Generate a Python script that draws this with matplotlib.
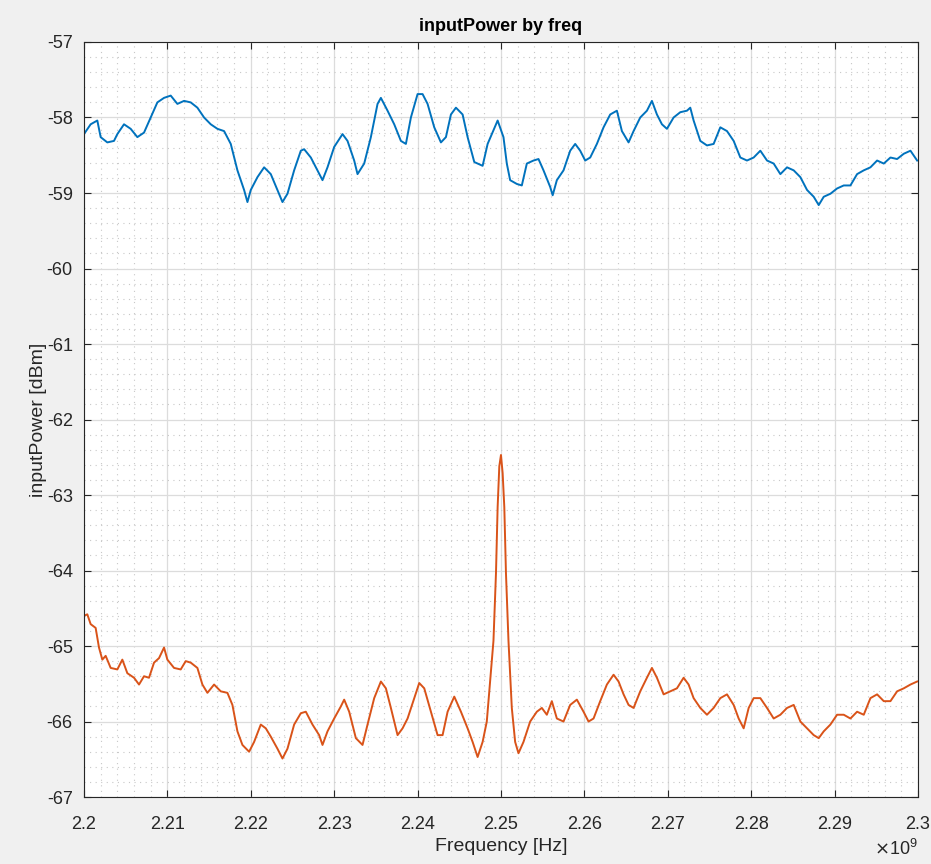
import numpy as np
import matplotlib
matplotlib.use('Agg')
import matplotlib.pyplot as plt
from matplotlib.ticker import MultipleLocator, FuncFormatter

# Frequency in MHz, input power in dBm
freq_a = [2200.0, 2200.8, 2201.6, 2202.0, 2202.8, 2203.6, 2204.0, 2204.8, 2205.6, 2206.4,
          2207.2, 2208.0, 2208.8, 2209.6, 2210.4, 2211.2, 2212.0, 2212.8, 2213.6, 2214.4,
          2215.2, 2216.0, 2216.8, 2217.6, 2218.4, 2219.2, 2219.6, 2220.0, 2220.8, 2221.6,
          2222.4, 2223.2, 2223.8, 2224.4, 2225.2, 2226.0, 2226.4, 2227.2, 2228.0, 2228.6,
          2229.2, 2230.0, 2231.0, 2231.6, 2232.4, 2232.8, 2233.6, 2234.4, 2235.2, 2235.6,
          2236.4, 2237.2, 2238.0, 2238.6, 2239.2, 2240.0, 2240.6, 2241.2, 2242.0, 2242.8,
          2243.4, 2244.0, 2244.6, 2245.4, 2246.0, 2246.8, 2247.8, 2248.4, 2249.6, 2250.3,
          2250.7, 2251.1, 2251.9, 2252.5, 2253.1, 2253.9, 2254.5, 2255.1, 2255.9, 2256.2,
          2256.7, 2257.5, 2258.3, 2258.9, 2259.5, 2260.1, 2260.7, 2261.5, 2262.3, 2263.1,
          2263.9, 2264.5, 2265.3, 2265.9, 2266.7, 2267.5, 2268.1, 2268.7, 2269.3, 2269.9,
          2270.7, 2271.5, 2272.3, 2272.7, 2273.1, 2273.9, 2274.7, 2275.5, 2276.3, 2277.1,
          2277.9, 2278.7, 2279.5, 2280.3, 2281.1, 2281.9, 2282.7, 2283.5, 2284.3, 2285.1,
          2285.9, 2286.7, 2287.5, 2288.1, 2288.7, 2289.5, 2290.3, 2291.1, 2291.9, 2292.7,
          2293.5, 2294.3, 2295.1, 2295.9, 2296.7, 2297.5, 2298.3, 2299.1, 2299.9]
power_a = [-58.22, -58.09, -58.04, -58.26, -58.33, -58.31, -58.22, -58.09, -58.15, -58.26,
           -58.20, -58.00, -57.80, -57.74, -57.71, -57.82, -57.78, -57.80, -57.87, -58.00,
           -58.09, -58.15, -58.18, -58.35, -58.70, -58.96, -59.12, -58.96, -58.79, -58.66,
           -58.75, -58.96, -59.12, -59.01, -58.70, -58.44, -58.42, -58.53, -58.70, -58.83,
           -58.66, -58.39, -58.22, -58.31, -58.57, -58.75, -58.61, -58.26, -57.82, -57.74,
           -57.91, -58.09, -58.31, -58.35, -58.00, -57.69, -57.69, -57.82, -58.13, -58.33,
           -58.26, -57.96, -57.87, -57.96, -58.26, -58.59, -58.64, -58.35, -58.04, -58.26,
           -58.61, -58.83, -58.88, -58.90, -58.61, -58.57, -58.55, -58.70, -58.92, -59.03,
           -58.83, -58.70, -58.44, -58.35, -58.44, -58.57, -58.53, -58.35, -58.13, -57.96,
           -57.91, -58.18, -58.33, -58.18, -58.00, -57.91, -57.78, -57.96, -58.09, -58.15,
           -58.00, -57.93, -57.91, -57.87, -58.04, -58.31, -58.37, -58.35, -58.13, -58.18,
           -58.31, -58.53, -58.57, -58.53, -58.44, -58.57, -58.61, -58.75, -58.66, -58.70,
           -58.79, -58.96, -59.05, -59.16, -59.05, -59.01, -58.94, -58.90, -58.90, -58.75,
           -58.70, -58.66, -58.57, -58.61, -58.53, -58.55, -58.48, -58.44, -58.57]

freq_b = [2200.0, 2200.4, 2200.8, 2201.4, 2201.8, 2202.2, 2202.6, 2203.2, 2204.0, 2204.6,
          2205.2, 2206.0, 2206.6, 2207.2, 2207.8, 2208.4, 2209.0, 2209.6, 2210.0, 2210.8,
          2211.6, 2212.2, 2212.8, 2213.6, 2214.2, 2214.8, 2215.6, 2216.4, 2217.2, 2217.8,
          2218.4, 2219.0, 2219.8, 2220.4, 2221.2, 2221.8, 2222.4, 2223.2, 2223.8, 2224.4,
          2225.2, 2226.0, 2226.6, 2227.4, 2228.2, 2228.6, 2229.2, 2230.0, 2230.8, 2231.2,
          2231.8, 2232.6, 2233.4, 2234.0, 2234.8, 2235.6, 2236.2, 2236.8, 2237.6, 2238.2,
          2238.8, 2239.6, 2240.2, 2240.8, 2241.6, 2242.4, 2243.0, 2243.6, 2244.4, 2245.2,
          2246.0, 2246.6, 2247.2, 2247.8, 2248.3, 2248.7, 2249.1, 2249.4, 2249.6, 2249.8,
          2250.0, 2250.2, 2250.4, 2250.6, 2250.9, 2251.3, 2251.7, 2252.1, 2252.7, 2253.5,
          2254.3, 2254.9, 2255.5, 2256.1, 2256.7, 2257.5, 2258.3, 2259.1, 2259.9, 2260.5,
          2261.1, 2261.9, 2262.7, 2263.5, 2264.1, 2264.7, 2265.3, 2265.9, 2266.7, 2267.5,
          2268.1, 2268.7, 2269.5, 2270.3, 2271.1, 2271.9, 2272.5, 2273.1, 2273.9, 2274.7,
          2275.5, 2276.3, 2277.1, 2277.9, 2278.5, 2279.1, 2279.7, 2280.3, 2281.1, 2281.9,
          2282.7, 2283.5, 2284.3, 2285.1, 2285.9, 2286.7, 2287.5, 2288.1, 2288.7, 2289.5,
          2290.3, 2291.1, 2291.9, 2292.7, 2293.5, 2294.3, 2295.1, 2295.9, 2296.7, 2297.5,
          2298.3, 2299.1, 2299.9]
power_b = [-64.60, -64.58, -64.71, -64.76, -65.02, -65.18, -65.13, -65.29, -65.31, -65.18,
           -65.36, -65.42, -65.51, -65.40, -65.42, -65.22, -65.16, -65.02, -65.18, -65.29,
           -65.31, -65.20, -65.22, -65.29, -65.51, -65.62, -65.51, -65.60, -65.62, -65.78,
           -66.13, -66.31, -66.40, -66.27, -66.04, -66.09, -66.20, -66.36, -66.49, -66.36,
           -66.04, -65.89, -65.87, -66.04, -66.18, -66.31, -66.13, -65.96, -65.80, -65.71,
           -65.87, -66.22, -66.31, -66.04, -65.69, -65.47, -65.56, -65.82, -66.18, -66.09,
           -65.96, -65.69, -65.49, -65.56, -65.87, -66.18, -66.18, -65.87, -65.67, -65.87,
           -66.09, -66.27, -66.47, -66.27, -66.00, -65.47, -64.93, -64.04, -63.16, -62.62,
           -62.47, -62.71, -63.16, -64.04, -64.93, -65.82, -66.27, -66.42, -66.27, -66.00,
           -65.87, -65.82, -65.91, -65.73, -65.96, -66.00, -65.78, -65.71, -65.87, -66.00,
           -65.96, -65.73, -65.51, -65.38, -65.47, -65.64, -65.78, -65.82, -65.60, -65.42,
           -65.29, -65.42, -65.64, -65.60, -65.56, -65.42, -65.51, -65.69, -65.82, -65.91,
           -65.82, -65.69, -65.64, -65.78, -65.96, -66.09, -65.82, -65.69, -65.69, -65.82,
           -65.96, -65.91, -65.82, -65.78, -66.00, -66.09, -66.18, -66.22, -66.13, -66.04,
           -65.91, -65.91, -65.96, -65.87, -65.91, -65.69, -65.64, -65.73, -65.73, -65.60,
           -65.56, -65.51, -65.47]

x_ticks = [2.2, 2.21, 2.22, 2.23, 2.24, 2.25, 2.26, 2.27, 2.28, 2.29, 2.3]
x_tick_labels = ['2.2', '2.21', '2.22', '2.23', '2.24', '2.25', '2.26', '2.27', '2.28', '2.29', '2.3']

plt.rcParams['font.family'] = ['Liberation Sans', 'DejaVu Sans']
dark = '#262626'

fig = plt.figure(figsize=(9.31, 8.64), dpi=100, facecolor='#f0f0f0')
ax = fig.add_axes([0.0902, 0.0775, 0.8958, 0.8739])
ax.set_facecolor('white')

ax.plot(np.array(freq_a) * 1e6, power_a, color='#0072bd', lw=1.4)
ax.plot(np.array(freq_b) * 1e6, power_b, color='#d95319', lw=1.4)

ax.set_xlim(2.2e9, 2.3e9)
ax.set_ylim(-67, -57)
ax.set_xticks([t * 1e9 for t in x_ticks])
ax.set_xticklabels(x_tick_labels)
ax.yaxis.set_major_locator(MultipleLocator(1))
ax.yaxis.set_major_formatter(FuncFormatter(lambda v, p: '%d' % round(v)))
ax.xaxis.set_minor_locator(MultipleLocator(2e6))
ax.yaxis.set_minor_locator(MultipleLocator(0.2))

ax.grid(which='major', color='#dcdcdc', lw=0.9, ls='-')
ax.grid(which='minor', color='#c8c8c8', lw=0.8, ls=(0, (1, 4)))
ax.set_axisbelow(True)

ax.tick_params(which='major', direction='in', length=5, width=0.8, colors=dark,
               labelsize=13, top=True, right=True)
ax.tick_params(axis='x', which='major', pad=14)
ax.tick_params(axis='y', which='major', pad=8)
ax.tick_params(which='minor', length=0, top=True, right=True)
for s in ax.spines.values():
    s.set_color(dark)
    s.set_linewidth(0.8)

ax.set_title('inputPower by freq', fontsize=13, fontweight='bold', color='black', pad=8)
ax.set_xlabel('Frequency [Hz]', fontsize=14, color=dark, labelpad=3)
ax.set_ylabel('inputPower [dBm]', fontsize=14, color=dark, labelpad=0)
fig.text(0.962, 0.006, r'$\times\mathregular{10^9}$', fontsize=13, color=dark, ha='center', va='bottom')

fig.savefig('out.png', dpi=100, facecolor=fig.get_facecolor())
